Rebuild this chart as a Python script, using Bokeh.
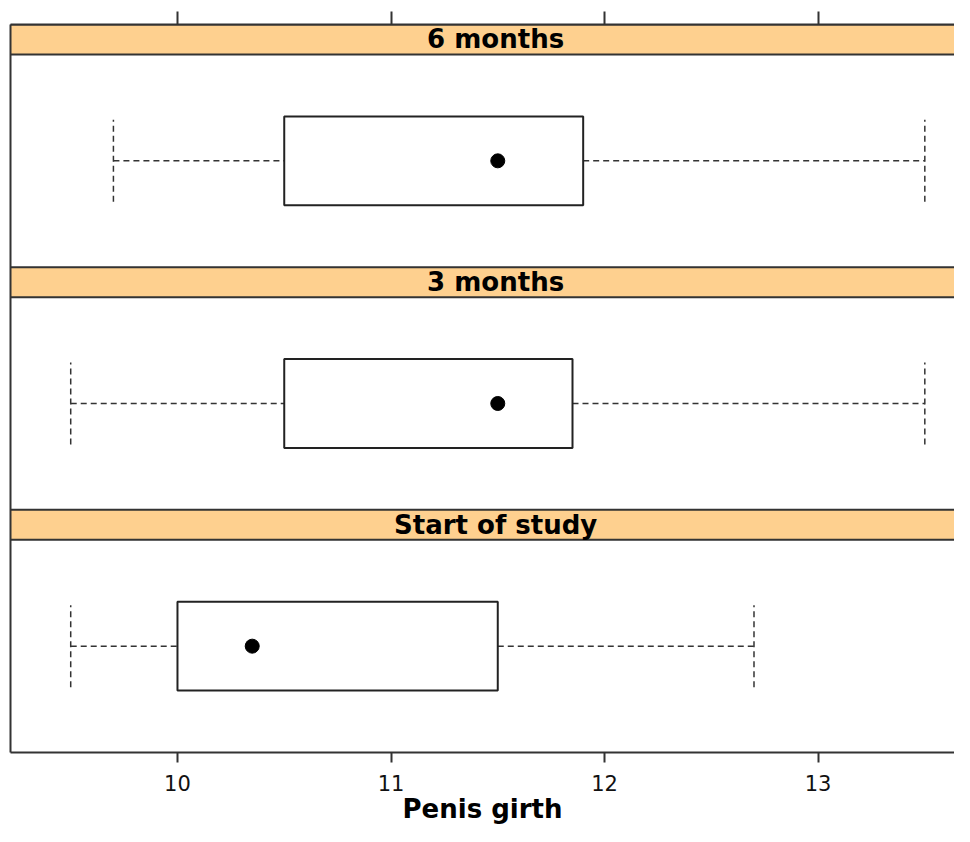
from bokeh.plotting import figure
from bokeh.models import LinearAxis, FixedTicker, Range1d, ColumnDataSource
from bokeh.core.properties import value
from bokeh.embed import file_html
from bokeh.resources import INLINE

# ---- data (panel order bottom -> top) ----
panels = ["Start of study", "3 months", "6 months"]
whisker_low = [9.5, 9.5, 9.7]
q1 = [10.0, 10.5, 10.5]
median = [10.35, 11.5, 11.5]
q3 = [11.5, 11.85, 11.9]
whisker_high = [12.7, 13.5, 13.5]
x_ticks = [10, 11, 12, 13]
x_label = "Penis girth"

# ---- layout constants ----
X_START, X_END = 9.218, 13.639
STRIP = 0.1236          # strip height in panel units
BOX_HALF = 0.183
CAP_HALF = 0.169
TEXT_X = 11.49
BORDER = "#333333"
STRIP_FILL = "#FED08F"

n = len(panels)
idx = list(range(n))
centers = [i + (1 - STRIP) / 2 for i in idx]

p = figure(width=954, height=826, output_backend="svg", toolbar_location=None,
           x_range=Range1d(X_START, X_END), y_range=Range1d(0, n),
           x_axis_location=None, y_axis_location=None,
           min_border=0, min_border_left=10, min_border_top=24,
           min_border_bottom=74, min_border_right=0)
p.outline_line_color = None
p.xgrid.visible = False
p.ygrid.visible = False
p.background_fill_color = "white"
p.border_fill_color = "white"

# strips
strip_src = ColumnDataSource(dict(
    left=[X_START - 1] * n, right=[X_END + 1] * n,
    bottom=[i + 1 - STRIP for i in idx], top=[i + 1 for i in idx],
    ymid=[i + 1 - STRIP / 2 for i in idx], x=[TEXT_X] * n, name=panels))
p.quad(left="left", right="right", bottom="bottom", top="top", source=strip_src,
       fill_color=STRIP_FILL, line_color=BORDER, line_width=2)
p.text(x="x", y="ymid", text="name", source=strip_src,
       text_font=value("DejaVu Sans"), text_font_style="bold",
       text_font_size="26px", text_align="center", text_baseline="middle",
       text_color="black")

# whiskers
src = ColumnDataSource(dict(
    lo=whisker_low, q1=q1, med=median, q3=q3, hi=whisker_high, y=centers,
    bot=[c - BOX_HALF for c in centers], top=[c + BOX_HALF for c in centers],
    cb=[c - CAP_HALF for c in centers], ct=[c + CAP_HALF for c in centers]))
p.segment(x0="lo", y0="y", x1="q1", y1="y", source=src,
          line_color=BORDER, line_width=1.5, line_dash="6 4")
p.segment(x0="q3", y0="y", x1="hi", y1="y", source=src,
          line_color=BORDER, line_width=1.5, line_dash="6 4")
p.segment(x0="lo", y0="cb", x1="lo", y1="ct", source=src,
          line_color=BORDER, line_width=1.5, line_dash="6 4")
p.segment(x0="hi", y0="cb", x1="hi", y1="ct", source=src,
          line_color=BORDER, line_width=1.5, line_dash="6 4")
# boxes
p.quad(left="q1", right="q3", bottom="bot", top="top", source=src,
       fill_color="white", line_color="#222222", line_width=2)
# medians
p.scatter(x="med", y="y", source=src, size=14, marker="circle",
          fill_color="black", line_color="black")

# axes
below = LinearAxis(ticker=FixedTicker(ticks=x_ticks), axis_label=x_label)
below.axis_line_color = BORDER
below.axis_line_width = 2
below.major_tick_line_color = BORDER
below.major_tick_line_width = 2
below.major_tick_out = 10
below.major_tick_in = 0
below.minor_tick_line_color = None
below.major_label_text_font = "DejaVu Sans"
below.major_label_text_font_size = "21px"
below.major_label_text_color = "#111111"
below.major_label_standoff = 12
below.axis_label_text_font = "DejaVu Sans"
below.axis_label_text_font_style = "bold"
below.axis_label_text_font_size = "26px"
below.axis_label_text_color = "black"
below.axis_label_standoff = 0
p.add_layout(below, "below")

above = LinearAxis(ticker=FixedTicker(ticks=x_ticks))
above.axis_line_color = BORDER
above.axis_line_width = 2
above.major_tick_line_color = BORDER
above.major_tick_line_width = 2
above.major_tick_out = 13
above.major_tick_in = 0
above.minor_tick_line_color = None
above.major_label_overrides = {t: "" for t in x_ticks}
above.major_label_standoff = 0
p.add_layout(above, "above")

left = LinearAxis(ticker=FixedTicker(ticks=[]))
left.axis_line_color = BORDER
left.axis_line_width = 2
left.major_tick_out = 0
left.major_tick_in = 0
left.minor_tick_line_color = None
left.major_label_standoff = 0
p.add_layout(left, "left")

open("out.html", "w").write(file_html(p, INLINE))
